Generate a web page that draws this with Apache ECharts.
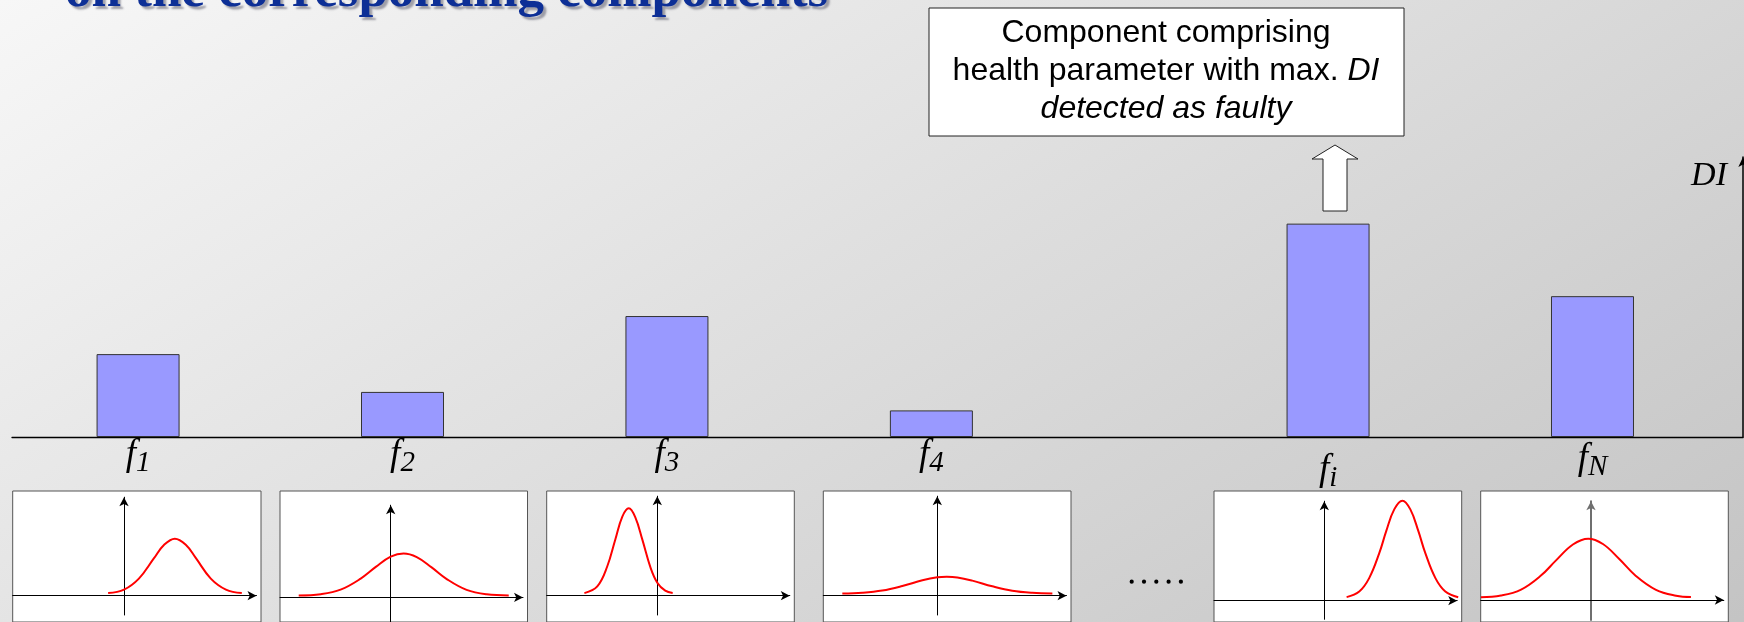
<!DOCTYPE html>
<html>
<head>
<meta charset="utf-8">
<script src="https://cdn.jsdelivr.net/npm/echarts@6/dist/echarts.min.js"></script>
<style>
html, body { margin: 0; padding: 0; }
#chart { width: 1744px; height: 622px; }
</style>
</head>
<body>
<div id="chart"></div>
<script>
// ------------------------- DATA -------------------------
// Health parameters (components) and their deviation index DI (arbitrary units, axis 0..1)
const components = ['f1', 'f2', 'f3', 'f4', 'fi', 'fN'];
const subscripts = ['1', '2', '3', '4', 'i', 'N'];
const diValues = [0.296, 0.161, 0.432, 0.095, 0.762, 0.503];
// Axis slots: components plus spacer slots ('s…') that leave gaps between the bars
const axisSlots = ['f1', 's1', 'f2', 's2', 'f3', 's3', 'f4', 's4', 's5', 'fi', 's6', 'fN'];

// Distribution sketches under each component (x, density)
const pdf1X = [-0.64, 0, 0.6, 1.21, 1.61, 2.05, 2.5, 2.9, 3.5, 4.11, 4.75];
const pdf1Y = [0.026, 0.061, 0.171, 0.375, 0.507, 0.57, 0.507, 0.375, 0.171, 0.061, 0.026];
const pdf2X = [-3.71, -2.82, -2.02, -1.21, -0.6, 0, 0.52, 1.05, 1.65, 2.26, 3.06, 3.87, 4.76];
const pdf2Y = [0.022, 0.035, 0.084, 0.204, 0.331, 0.442, 0.477, 0.438, 0.326, 0.199, 0.082, 0.034, 0.022];
const pdf3X = [-2.94, -2.42, -2.02, -1.69, -1.41, -1.15, -0.89, -0.6, -0.28, 0, 0.32, 0.62];
const pdf3Y = [0.026, 0.093, 0.292, 0.565, 0.791, 0.874, 0.786, 0.558, 0.286, 0.13, 0.05, 0.027];
const pdf4X = [-3.83, -3.02, -2.22, -1.41, -0.6, 0, 0.38, 0.81, 1.41, 2.22, 3.02, 3.83, 4.64];
const pdf4Y = [0.022, 0.03, 0.052, 0.097, 0.154, 0.184, 0.19, 0.183, 0.151, 0.094, 0.05, 0.029, 0.022];
const pdfiX = [0.9, 1.41, 1.81, 2.22, 2.5, 2.82, 3.15, 3.47, 3.79, 4.07, 4.48, 4.88, 5.4];
const pdfiY = [0.036, 0.092, 0.226, 0.478, 0.698, 0.913, 1.0, 0.913, 0.698, 0.478, 0.226, 0.092, 0.035];
const pdfNX = [-4.44, -3.63, -2.82, -2.02, -1.41, -0.73, -0.11, 0.48, 1.13, 1.81, 2.62, 3.43, 4.03];
const pdfNY = [0.027, 0.044, 0.104, 0.244, 0.396, 0.555, 0.613, 0.56, 0.413, 0.241, 0.102, 0.043, 0.029];

// Texts
const titleText = 'on the corresponding components';
const calloutLine1 = 'Component comprising';
const calloutLine2a = 'health parameter with max. ';
const calloutLine2b = 'DI';
const calloutLine3 = 'detected as faulty';
const yAxisName = 'DI';

// ------------------------- LAYOUT -------------------------
const BASE_Y = 437;           // DI baseline
const DI_TOP = 157;           // top of DI axis (arrow centre)
const SLOT = 132.22;          // width of one category slot
const BAR_LEFT = 71.96;
const DI_AXIS_X = 1743;
const labelDrop = { fi: 15, fN: 4 };   // extra vertical offset of some axis labels

// small distribution boxes
const BOX_TOP = 491;
const PX_PER_X = 24.8;   // pixels per x unit inside the boxes
const PX_PER_Y = 100;    // pixels per density unit
const ARROW = [7, 9];
const plotLayout = [
  { left: 12.7,   right: 261,    x0: 124,    tip: 492.7, y0: 595.7, bottom: 615 },
  { left: 280,    right: 527.5,  x0: 390.7,  tip: 500.7, y0: 605.3, bottom: 632 },
  { left: 546.7,  right: 794.3,  x0: 657.3,  tip: 491.7, y0: 595.7, bottom: 615 },
  { left: 823.3,  right: 1071,   x0: 937.3,  tip: 491.7, y0: 595.7, bottom: 615 },
  { left: 1214,   right: 1461.7, x0: 1324.3, tip: 496.7, y0: 600.7, bottom: 619.3 },
  { left: 1480.7, right: 1728.3, x0: 1591,   tip: 496.7, y0: 600,   bottom: 620 }
];
const pdfs = [[pdf1X, pdf1Y], [pdf2X, pdf2Y], [pdf3X, pdf3Y], [pdf4X, pdf4Y], [pdfiX, pdfiY], [pdfNX, pdfNY]];

// ------------------------- OPTION -------------------------
const serif = '"Liberation Serif", "Times New Roman", serif';
const sans = '"Liberation Sans", Arial, sans-serif';

const barGridWidth = SLOT * axisSlots.length;
const grids = [
  { left: BAR_LEFT, width: barGridWidth, top: DI_TOP, height: BASE_Y - DI_TOP },
  { left: 12, width: DI_AXIS_X - 12, top: DI_TOP, height: BASE_Y - DI_TOP }
];
const xAxes = [];
const yAxes = [];
const series = [];

// bar category axis
xAxes.push({
  gridIndex: 0, type: 'category', data: axisSlots.map(function (s) {
    return labelDrop[s] ? { value: s, textStyle: { padding: [labelDrop[s], 0, 0, 0] } } : s;
  }),
  axisLine: { show: false }, axisTick: { show: false },
  axisLabel: {
    interval: 0, margin: 0,
    formatter: function (v) {
      const i = components.indexOf(v);
      if (i < 0) return '';
      return '{f|f}{s|' + subscripts[i] + '}';
    },
    rich: {
      f: { fontFamily: serif, fontStyle: 'italic', fontSize: 37, lineHeight: 41, verticalAlign: 'top', color: '#000' },
      s: { fontFamily: serif, fontStyle: 'italic', fontSize: 29, lineHeight: 16, verticalAlign: 'bottom', color: '#000' }
    }
  }
});
yAxes.push({
  gridIndex: 0, type: 'value', min: 0, max: 1, position: 'right', offset: DI_AXIS_X - (BAR_LEFT + barGridWidth),
  name: yAxisName, nameLocation: 'end', nameGap: -19,
  nameTextStyle: { fontFamily: serif, fontStyle: 'italic', fontSize: 34, color: '#000', align: 'right', verticalAlign: 'middle', padding: [0, 16, 0, 0] },
  axisLine: { show: true, symbol: ['none', 'arrow'], symbolSize: [7, 10], lineStyle: { color: '#000', width: 1.5 } },
  axisTick: { show: false }, axisLabel: { show: false }, splitLine: { show: false }
});
// baseline axis spanning the full width
xAxes.push({
  gridIndex: 1, type: 'value', min: 0, max: 1,
  axisLine: { show: true, onZero: false, lineStyle: { color: '#000', width: 1.3 } },
  axisTick: { show: false }, axisLabel: { show: false }, splitLine: { show: false }
});
yAxes.push({ gridIndex: 1, type: 'value', min: 0, max: 1, show: false });

series.push({
  type: 'bar', xAxisIndex: 0, yAxisIndex: 0, barWidth: 83,
  data: axisSlots.map(function (s) {
    const i = components.indexOf(s);
    return i < 0 ? '-' : diValues[i];
  }),
  itemStyle: { color: '#9999ff', borderColor: '#333', borderWidth: 1 },
  z: 3
});

// distribution boxes
plotLayout.forEach(function (L, k) {
  const outer = grids.length;
  grids.push({ left: L.left, width: L.right - L.left, top: BOX_TOP, height: 160, show: true,
    backgroundColor: '#fff', borderColor: '#555', borderWidth: 1 });
  xAxes.push({ gridIndex: outer, type: 'value', show: false, min: 0, max: 1 });
  yAxes.push({ gridIndex: outer, type: 'value', show: false, min: 0, max: 1 });

  const inner = grids.length;
  const top = L.tip + ARROW[1] / 2;
  const rightEdge = L.right - ARROW[1] / 2;
  grids.push({ left: L.left, width: rightEdge - L.left, top: top, height: L.bottom - top });
  const axisLineStyle = { color: '#000', width: 1 };
  xAxes.push({
    gridIndex: inner, type: 'value',
    min: -(L.x0 - L.left) / PX_PER_X, max: (rightEdge - L.x0) / PX_PER_X,
    axisLine: { show: true, onZero: true, symbol: ['none', 'arrow'], symbolSize: ARROW, lineStyle: axisLineStyle },
    axisTick: { show: false }, axisLabel: { show: false }, splitLine: { show: false }
  });
  yAxes.push({
    gridIndex: inner, type: 'value',
    min: -(L.bottom - L.y0) / PX_PER_Y, max: (L.y0 - top) / PX_PER_Y,
    axisLine: { show: true, onZero: true, symbol: ['none', 'arrow'], symbolSize: ARROW,
      lineStyle: k === 5 ? { color: '#6f6f6f', width: 2 } : axisLineStyle },
    axisTick: { show: false }, axisLabel: { show: false }, splitLine: { show: false }
  });
  const xs = pdfs[k][0], ys = pdfs[k][1];
  series.push({
    type: 'line', xAxisIndex: xAxes.length - 1, yAxisIndex: yAxes.length - 1,
    data: xs.map(function (x, j) { return [x, ys[j]]; }),
    smooth: 0.4, showSymbol: false, clip: false, silent: true,
    lineStyle: { color: '#ff0000', width: 2 }, z: 5
  });
});

// dots between box 4 and box i
const dotEls = [];
for (let d = 0; d < 5; d++) {
  dotEls.push({ type: 'circle', shape: { cx: 1131.7 + d * 12.3, cy: 581.7, r: 2.1 }, style: { fill: '#000' } });
}

const option = {
  animation: false,
  backgroundColor: {
    type: 'linear', x: 0, y: 0, x2: 0.43, y2: 1.97,
    colorStops: [{ offset: 0, color: '#f7f7f7' }, { offset: 1, color: '#c4c4c4' }]
  },
  title: {
    text: titleText, left: 60, top: -39,
    textStyle: { fontFamily: serif, fontWeight: 'bold', fontSize: 53, color: '#0d2f96',
      textShadowColor: 'rgba(60,60,80,0.45)', textShadowOffsetX: 3, textShadowOffsetY: 3, textShadowBlur: 2 }
  },
  grid: grids,
  xAxis: xAxes,
  yAxis: yAxes,
  series: series,
  graphic: { elements: [
    { type: 'rect', shape: { x: 929, y: 8, width: 475, height: 128 },
      style: { fill: '#fff', stroke: '#222', lineWidth: 1 }, z: 10 },
    { type: 'text', x: 1166, y: 71, z: 11,
      style: {
        text: '{n|' + calloutLine1 + '}\n{n|' + calloutLine2a + '}{i|' + calloutLine2b + '}\n{i|' + calloutLine3 + '}',
        align: 'center', verticalAlign: 'middle',
        rich: {
          n: { fontFamily: sans, fontSize: 32, lineHeight: 38, fill: '#000' },
          i: { fontFamily: sans, fontSize: 32, fontStyle: 'italic', lineHeight: 38, fill: '#000' }
        }
      } },
    { type: 'polygon', z: 10,
      shape: { points: [[1335, 145], [1358, 159], [1347, 159], [1347, 211], [1323, 211], [1323, 159], [1312, 159]] },
      style: { fill: '#fff', stroke: '#222', lineWidth: 1 } },
    { type: 'group', children: dotEls, z: 10 }
  ] }
};

const chart = echarts.init(document.getElementById('chart'), null, { renderer: 'canvas' });
chart.setOption(option);
</script>
</body>
</html>
